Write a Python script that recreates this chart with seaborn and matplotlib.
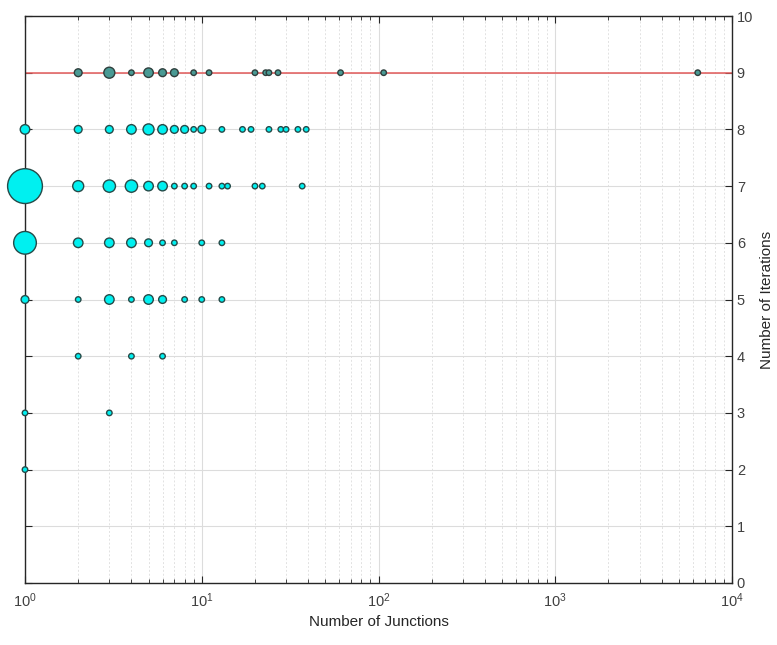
import numpy as np
import pandas as pd
import matplotlib
matplotlib.use("Agg")
import matplotlib.pyplot as plt
import seaborn as sns
from matplotlib.ticker import LogLocator, FixedLocator

sns.set_style("white")
plt.rcParams['font.family'] = ['Liberation Sans', 'DejaVu Sans']
plt.rcParams['mathtext.default'] = 'regular'

# ---- data: (junctions, iterations, count) per row of iterations ----
junctions_it9 = [2, 3, 4, 5, 6, 7, 9, 11, 20, 23, 24, 27, 61, 107, 6400]
counts_it9    = [2, 4, 1, 3, 2, 2, 1, 1, 1, 1, 1, 1, 1, 1, 1]
junctions_it8 = [1, 2, 3, 4, 5, 6, 7, 8, 9, 10, 13, 17, 19, 24, 28, 30, 35, 39]
counts_it8    = [3, 2, 2, 3, 4, 3, 2, 2, 1, 2, 1, 1, 1, 1, 1, 1, 1, 1]
junctions_it7 = [1, 2, 3, 4, 5, 6, 7, 8, 9, 11, 13, 14, 20, 22, 37]
counts_it7    = [40, 4, 5, 5, 3, 3, 1, 1, 1, 1, 1, 1, 1, 1, 1]
junctions_it6 = [1, 2, 3, 4, 5, 6, 7, 10, 13]
counts_it6    = [17, 3, 3, 3, 2, 1, 1, 1, 1]
junctions_it5 = [1, 2, 3, 4, 5, 6, 8, 10, 13]
counts_it5    = [2, 1, 3, 1, 3, 2, 1, 1, 1]
junctions_it4 = [2, 4, 6]
counts_it4    = [1, 1, 1]
junctions_it3 = [1, 3]
counts_it3    = [1, 1]
junctions_it2 = [1]
counts_it2    = [1]
max_iterations = 9

rows = []
for it, js, cs in [(9, junctions_it9, counts_it9), (8, junctions_it8, counts_it8),
                   (7, junctions_it7, counts_it7), (6, junctions_it6, counts_it6),
                   (5, junctions_it5, counts_it5), (4, junctions_it4, counts_it4),
                   (3, junctions_it3, counts_it3), (2, junctions_it2, counts_it2)]:
    for j, c in zip(js, cs):
        rows.append({"junctions": j, "iterations": it, "count": c})
df = pd.DataFrame(rows)

fig = plt.figure(figsize=(7.77, 6.45), dpi=100)
ax = fig.add_axes([25/777, 1-583/645, (732-25)/777, (583-16)/645])

ax.set_xscale('log')
ax.set_xlim(1, 1e4)
ax.set_ylim(0, 10)

# grid
ax.grid(True, which='major', color='#dcdcdc', linewidth=0.8, linestyle='-')
ax.xaxis.set_minor_locator(LogLocator(base=10, subs=np.arange(2, 10), numticks=20))
ax.grid(True, which='minor', axis='x', color='#e2e2e2', linewidth=0.7, linestyle=(0, (2, 2)))
ax.set_axisbelow(True)

ax.axhline(max_iterations, color='#e25a5a', linewidth=1.1, zorder=2)

area_per_count = 15.7
df_main = df[df.iterations != max_iterations]
df_top = df[df.iterations == max_iterations]
sns.scatterplot(data=df_main, x='junctions', y='iterations', size='count',
                sizes=(0, area_per_count*40), size_norm=(0, 40),
                color='#00f0f0', edgecolor='#264a48', linewidth=1.0,
                legend=False, ax=ax, zorder=3, clip_on=False)
sns.scatterplot(data=df_top, x='junctions', y='iterations', size='count',
                sizes=(0, area_per_count*40), size_norm=(0, 40),
                color='#4a9a94', edgecolor='#2e3e3c', linewidth=1.0,
                legend=False, ax=ax, zorder=3, clip_on=False)

ax.yaxis.set_major_locator(FixedLocator(range(0, 11)))
ax.xaxis.set_major_locator(LogLocator(base=10, numticks=10))

ax.tick_params(axis='both', which='both', direction='in', top=True, bottom=True,
               left=True, right=True, labelleft=False, labelright=True,
               colors='#262626', labelcolor='#404040', labelsize=10.5)
ax.tick_params(axis='both', which='major', length=5, width=0.8)
ax.tick_params(axis='x', which='minor', length=3, width=0.6)
ax.tick_params(axis='x', which='major', pad=6)

for s in ax.spines.values():
    s.set_color('#262626')
    s.set_linewidth(1.0)
    s.set_zorder(2.5)

ax.set_xlabel('Number of Junctions', fontsize=11, color='#262626')
ax.set_ylabel('Number of Iterations', fontsize=11, color='#262626', labelpad=5)
ax.yaxis.set_label_position('right')

fig.savefig('out.png', dpi=100)
